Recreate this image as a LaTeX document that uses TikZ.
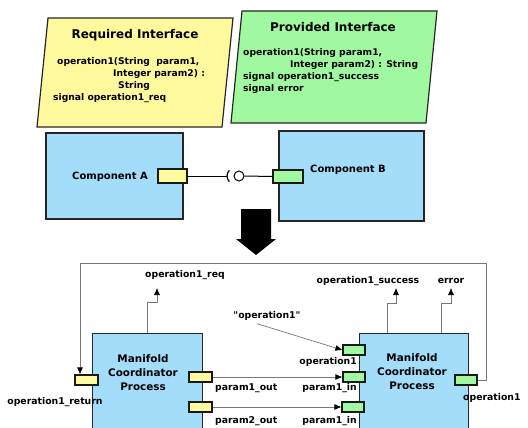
\documentclass[tikz,border=0pt]{standalone}
\usepackage{fontspec}
\setmainfont{DejaVu Sans}
\usetikzlibrary{arrows.meta}
\definecolor{cyel}{HTML}{FFF99E}
\definecolor{cgrn}{HTML}{A0F8A0}
\definecolor{cblu}{HTML}{A3DDFA}
\definecolor{cline}{HTML}{777777}
\tikzset{
  iface/.style={draw=black!85, line width=1.2pt},
  compbox/.style={draw=black!85, line width=1.4pt, fill=cblu},
  portbox/.style={draw=black!90, line width=1.2pt, inner sep=0pt},
  yport/.style={portbox, fill=cyel},
  gport/.style={portbox, fill=cgrn},
  ttl/.style={font=\bfseries\fontsize{12}{14}\selectfont, inner sep=0pt},
  body/.style={font=\bfseries\fontsize{9.2}{12}\selectfont, inner sep=0pt, anchor=west, text height=7pt, text depth=2pt},
  lbl/.style={font=\bfseries\fontsize{9.3}{12}\selectfont, inner sep=0pt, text height=7pt, text depth=2pt},
  cname/.style={font=\bfseries\fontsize{10}{12}\selectfont, inner sep=0pt},
  pname/.style={font=\bfseries\fontsize{10.4}{14}\selectfont, inner sep=0pt, align=center},
  conn/.style={draw=cline, line width=0.7pt},
  arr/.style={conn, -{Latex[length=7pt,width=6pt,color=black]}},
}
\begin{document}
\begin{tikzpicture}[x=1pt,y=-1pt]
\useasboundingbox (0,0) rectangle (528,428);
\clip (0,0) rectangle (528,428);
\fill[white] (0,0) rectangle (528,428);

% interfaces
\draw[iface, fill=cyel] (48,18) -- (233,18) -- (222,127) -- (37,127) -- cycle;
\node[ttl] (reqt) at (135,35) {Required Interface};
\node[body] (r1) at (57,62) {operation1(String\ \ param1,};
\node[body] (r2) at (113,74) {Integer param2) :};
\node[body] (r3) at (118,86) {String};
\node[body] (r4) at (53,98) {signal operation1\_req};

\draw[iface, fill=cgrn] (242,11) -- (437,11) -- (426,123) -- (231,123) -- cycle;
\node[ttl] (prvt) at (333,27) {Provided Interface};
\node[body] (p1) at (243,53) {operation1(String param1,};
\node[body] (p2) at (290,65) {Integer param2) : String};
\node[body] (p3) at (243,77) {signal operation1\_success};
\node[body] (p4) at (243,89) {signal error};

% components
\node[compbox, minimum width=137pt, minimum height=86pt] (compA) at (114.5,176) {};
\node[cname] (compAt) at (110,177) {Component A};
\node[compbox, minimum width=145pt, minimum height=90pt] (compB) at (351.5,176) {};
\node[cname] (compBt) at (348,170) {Component B};
\node[yport, minimum width=29pt, minimum height=14pt] (portA) at (172.5,176) {};
\node[gport, minimum width=30pt, minimum height=13pt] (portB) at (288,176.5) {};
\coordinate (sock) at (227,176);
\node[circle, draw=black, line width=1pt, fill=white, minimum size=10pt, inner sep=0pt] (ball) at (239,176) {};
\draw[line width=1pt] (portA.east) -- (sock);
\draw[line width=1.2pt] ([shift={(135:8pt)}]235,176) arc (135:225:8pt);
\draw[line width=1pt] (ball.east) -- (portB.west);

% big arrow
\fill[black] (241,209) -- (271,209) -- (271,239) -- (276,239) -- (256,255) -- (236,239) -- (241,239) -- cycle;

% bottom processes
\node[compbox, minimum width=110pt, minimum height=120pt, anchor=north west] (procL) at (92,333) {};
\node[pname] (procLt) at (143,373) {Manifold\\Coordinator\\Process};
\node[compbox, minimum width=109pt, minimum height=120pt, anchor=north west] (procR) at (359,333) {};
\node[pname] (procRt) at (412,372) {Manifold\\Coordinator\\Process};

% ports
\node[yport, minimum width=23pt, minimum height=10pt] (lret) at (86.5,380) {};
\node[yport, minimum width=23pt, minimum height=10pt] (lout1) at (200.5,377) {};
\node[yport, minimum width=23pt, minimum height=10pt] (lout2) at (200.5,407) {};
\node[gport, minimum width=22pt, minimum height=10pt] (rop) at (354,350) {};
\node[gport, minimum width=22pt, minimum height=10pt] (rin1) at (354,377) {};
\node[gport, minimum width=22pt, minimum height=10pt] (rin2) at (353,407) {};
\node[gport, minimum width=22pt, minimum height=10pt] (rout) at (466,380) {};

% labels
\node[lbl] (lretl) at (55,402) {operation1\_return};
\node[lbl, anchor=west] (lout1l) at (215,388) {param1\_out};
\node[lbl, anchor=west] (lout2l) at (215,421) {param2\_out};
\node[lbl, anchor=east] (ropl) at (357,362) {operation1};
\node[lbl, anchor=east] (rin1l) at (357,388) {param1\_in};
\node[lbl, anchor=east] (rin2l) at (357,421) {param1\_in};
\node[lbl, anchor=west] (routl) at (463,398) {operation1};
\node[lbl] (reql) at (185,275) {operation1\_req};
\node[lbl] (succl) at (368,281) {operation1\_success};
\node[lbl] (errl) at (451,281) {error};
\node[lbl] (quot) at (267,316) {\textquotedbl operation1\textquotedbl};

% connectors
\coordinate (reqtip) at (157,288);
\coordinate (succtip) at (396,288);
\coordinate (errtip) at (451,288);
\draw[arr] (147,333) -- (147,302) -- (157,302) -- (reqtip);
\draw[arr] (387,333) -- (387,303) -- (396,303) -- (succtip);
\draw[arr] (441,333) -- (441,303) -- (451,303) -- (errtip);
\draw[arr] (lout1.east) -- (rin1.west);
\draw[arr] (lout2.east) -- (rin2.west);
\draw[arr] ([xshift=-10pt,yshift=-3pt]quot.south) -- (rop.west);
\draw[arr] (rout.east) -- (486,380) -- (486,263) -- (80,263) -- ([xshift=-6.5pt]lret.north);
\end{tikzpicture}
\end{document}
